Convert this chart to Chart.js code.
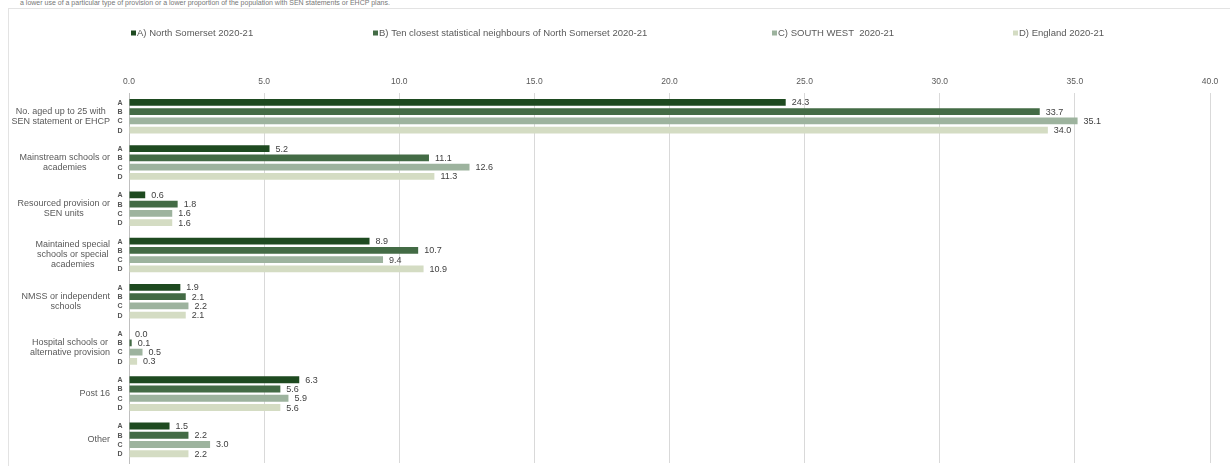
<!DOCTYPE html>
<html>
<head>
<meta charset="utf-8">
<script src="https://cdn.jsdelivr.net/npm/chart.js@4.4.1/dist/chart.umd.min.js"></script>
<style>
  html,body{margin:0;padding:0;background:#fff;}
  body{width:1230px;height:466px;position:relative;overflow:hidden;font-family:"Liberation Sans",Arial,sans-serif;}
  #note{position:absolute;left:20px;top:-1px;font-size:7px;line-height:7px;color:#777;white-space:nowrap;}
  #frame{position:absolute;left:8px;top:8px;width:1240px;height:470px;border:1.5px solid #e3e3e3;box-sizing:border-box;}
  #chart{position:absolute;left:0;top:0;}
</style>
</head>
<body>
<div id="note">a lower use of a particular type of provision or a lower proportion of the population with SEN statements or EHCP plans.</div>
<div id="frame"></div>
<canvas id="chart" width="1230" height="466"></canvas>
<script>
// categories (each entry = lines of the label)
const categories = [
  ["No. aged up to 25 with", "SEN statement or EHCP"],
  ["Mainstream schools or", "academies"],
  ["Resourced provision or", "SEN units"],
  ["Maintained special", "schools or special", "academies"],
  ["NMSS or independent", "schools"],
  ["Hospital schools or", "alternative provision"],
  ["Post 16"],
  ["Other"]
];

const seriesNames = [
  "A) North Somerset 2020-21",
  "B) Ten closest statistical neighbours of North Somerset 2020-21",
  "C) SOUTH WEST  2020-21",
  "D) England 2020-21"
];
const seriesLetters = ["A", "B", "C", "D"];

const northSomerset = [24.3, 5.2, 0.6, 8.9, 1.9, 0.0, 6.3, 1.5];
const neighbours    = [33.7, 11.1, 1.8, 10.7, 2.1, 0.1, 5.6, 2.2];
const southWest     = [35.1, 12.6, 1.6, 9.4, 2.2, 0.5, 5.9, 3.0];
const england       = [34.0, 11.3, 1.6, 10.9, 2.1, 0.3, 5.6, 2.2];

const colors = ["#1e4a20", "#436b45", "#9db39e", "#d4dcc3"];
const legendX = [131, 373, 772, 1013];

const font = '"Liberation Sans", Arial, sans-serif';
const textGray = "#595959";

const extras = {
  id: "extras",
  afterDatasetsDraw(chart){
    const ctx = chart.ctx;
    const area = chart.chartArea;
    ctx.save();
    ctx.textBaseline = "middle";

    // value labels + letters
    chart.data.datasets.forEach((ds, di) => {
      const meta = chart.getDatasetMeta(di);
      meta.data.forEach((bar, i) => {
        ctx.font = "9px " + font;
        ctx.fillStyle = "#404040";
        ctx.textAlign = "left";
        ctx.fillText(ds.data[i].toFixed(1), bar.x + 6, bar.y + 0.5);
        ctx.font = "bold 7px " + font;
        ctx.fillStyle = "#555";
        ctx.textAlign = "center";
        ctx.fillText(seriesLetters[di], area.left - 9, bar.y + 0.5);
      });
    });

    // category labels, centered lines in a right-aligned block
    const ys = chart.scales.y;
    ctx.font = "9px " + font;
    ctx.fillStyle = textGray;
    ctx.textAlign = "center";
    categories.forEach((lines, i) => {
      const cy = ys.getPixelForTick(i);
      const w = Math.max(...lines.map(l => ctx.measureText(l).width));
      const cx = area.left - 19 - w / 2;
      const lh = 10;
      lines.forEach((l, k) => {
        ctx.fillText(l, cx, cy + (k - (lines.length - 1) / 2) * lh);
      });
    });

    // legend
    ctx.font = "9.5px " + font;
    ctx.textAlign = "left";
    chart.data.datasets.forEach((ds, di) => {
      const x = legendX[di], y = 33;
      ctx.fillStyle = ds.backgroundColor;
      ctx.fillRect(x, y - 2.5, 5, 5);
      ctx.fillStyle = textGray;
      ctx.fillText(ds.label, x + 6, y + 0.5);
    });
    ctx.restore();
  }
};

new Chart(document.getElementById("chart"), {
  type: "bar",
  data: {
    labels: categories,
    datasets: [northSomerset, neighbours, southWest, england].map((d, i) => ({
      label: seriesNames[i],
      data: d,
      backgroundColor: colors[i],
      borderWidth: 0,
      categoryPercentage: 0.8,
      barPercentage: 0.74
    }))
  },
  options: {
    indexAxis: "y",
    responsive: false,
    animation: false,
    devicePixelRatio: 1,
    layout: { padding: { top: 71, right: 20, bottom: 3, left: 0 } },
    plugins: {
      legend: { display: false },
      tooltip: { enabled: false }
    },
    scales: {
      x: {
        position: "top",
        min: 0,
        max: 40,
        ticks: {
          stepSize: 5,
          maxRotation: 0,
          color: textGray,
          font: { family: font, size: 8.5 },
          padding: 6,
          callback: v => v.toFixed(1)
        },
        grid: { color: "#d9d9d9", lineWidth: 1, drawTicks: false },
        border: { display: false }
      },
      y: {
        ticks: { display: false },
        grid: { display: false },
        border: { color: "#bfbfbf" },
        afterFit(scale){ scale.width = 129; }
      }
    }
  },
  plugins: [extras]
});
</script>
</body>
</html>
